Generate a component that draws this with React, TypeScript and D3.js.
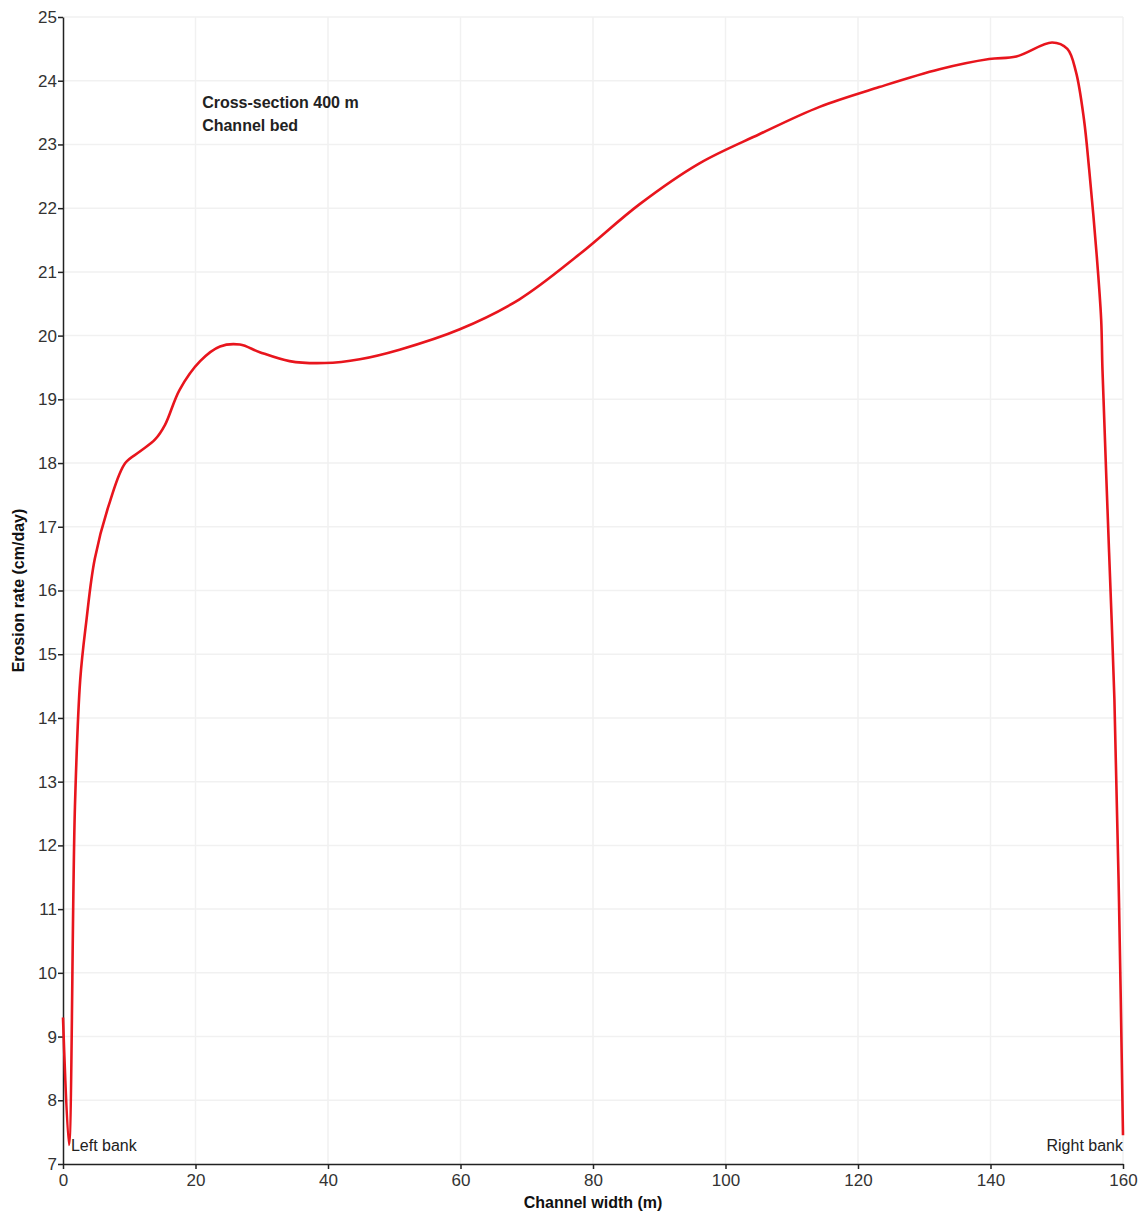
import React, { useEffect, useRef } from 'react';
import * as d3 from 'd3';

// channel width (m)
const widths = [
  0, 0.9, 1.8, 2.6, 3.5, 4.8, 7.1, 9.4, 11.6, 13.9, 15.4, 17.6, 20.7, 23.7, 26.7,
  29.7, 34.2, 39.5, 44.8, 50.8, 59.9, 68.9, 78, 87, 96, 105.1, 114.2, 123.2,
  132.3, 139.8, 143.9, 149.3, 151.6, 152.9, 154.1, 154.9, 156, 156.7, 156.9,
  157.9, 158.7, 159.4, 160,
];
// erosion rate (cm/day)
const erosion = [
  9.3, 7.3, 12.6, 14.6, 15.5, 16.5, 17.4, 18.0, 18.18, 18.37, 18.6, 19.15, 19.6,
  19.83, 19.86, 19.74, 19.6, 19.57, 19.63, 19.78, 20.1, 20.57, 21.28, 22.06,
  22.7, 23.16, 23.59, 23.9, 24.18, 24.34, 24.38, 24.6, 24.5, 24.14, 23.4, 22.6,
  21.3, 20.26, 19.47, 16.6, 14.3, 11.1, 7.45,
];
const xTicks = [0, 20, 40, 60, 80, 100, 120, 140, 160];
const yTicks = [7, 8, 9, 10, 11, 12, 13, 14, 15, 16, 17, 18, 19, 20, 21, 22, 23, 24, 25];
const notes = ['Cross-section 400 m', 'Channel bed'];

const W = 1143;
const H = 1214;

export default function App() {
  const ref = useRef<SVGSVGElement>(null);

  useEffect(() => {
    const svg = d3.select(ref.current);
    svg.selectAll('*').remove();

    const margin = { top: 17, right: 20, bottom: 50, left: 63 };
    const innerW = W - margin.left - margin.right;
    const innerH = H - margin.top - margin.bottom;
    const font = '"Liberation Sans", Arial, sans-serif';

    const x = d3.scaleLinear().domain([0, 160]).range([0, innerW]);
    const y = d3.scaleLinear().domain([7, 25]).range([innerH, 0]);

    const g = svg.append('g')
      .attr('transform', 'translate(' + margin.left + ',' + margin.top + ')');

    // grid
    g.append('g').selectAll('line').data(yTicks.slice(1)).enter().append('line')
      .attr('x1', 0).attr('x2', innerW)
      .attr('y1', d => y(d)).attr('y2', d => y(d))
      .attr('stroke', '#f1f1f1').attr('stroke-width', 1.5);
    g.append('g').selectAll('line').data(xTicks.slice(1)).enter().append('line')
      .attr('x1', d => x(d)).attr('x2', d => x(d))
      .attr('y1', 0).attr('y2', innerH)
      .attr('stroke', '#f1f1f1').attr('stroke-width', 1.5);

    // axes
    const xAxis = g.append('g')
      .attr('transform', 'translate(0,' + innerH + ')')
      .call(d3.axisBottom(x).tickValues(xTicks).tickSize(5).tickSizeOuter(0));
    const yAxis = g.append('g')
      .call(d3.axisLeft(y).tickValues(yTicks).tickSize(5).tickSizeOuter(0));
    [xAxis, yAxis].forEach(a => {
      a.selectAll('path, line').attr('stroke', '#222').attr('stroke-width', 1.5);
      a.selectAll('text')
        .attr('fill', '#333')
        .style('font-family', font)
        .style('font-size', '17px');
    });
    xAxis.selectAll('text').attr('dy', '0.85em');
    yAxis.selectAll('text').attr('x', -6);

    // curve
    const pts = widths.map((w, i) => [w, erosion[i]] as [number, number]);
    const path = d3.line<[number, number]>()
      .x(d => x(d[0]))
      .y(d => y(d[1]))
      .curve(d3.curveCatmullRom.alpha(0.5));
    g.append('path')
      .datum(pts)
      .attr('d', path)
      .attr('fill', 'none')
      .attr('stroke', '#e8151d')
      .attr('stroke-width', 2.6)
      .attr('stroke-linejoin', 'round');

    // bank labels
    g.append('text').attr('x', x(1.2)).attr('y', y(7.2))
      .style('font-family', font).style('font-size', '16px').attr('fill', '#222')
      .text('Left bank');
    g.append('text').attr('x', x(160)).attr('y', y(7.2))
      .attr('text-anchor', 'end')
      .style('font-family', font).style('font-size', '16px').attr('fill', '#222')
      .text('Right bank');

    // annotation
    g.append('g').selectAll('text').data(notes).enter().append('text')
      .attr('x', x(21))
      .attr('y', (d, i) => y(24) + 27 + i * 23)
      .style('font-family', font).style('font-size', '16px')
      .style('font-weight', 'bold').attr('fill', '#222')
      .text(d => d);

    // axis titles
    svg.append('text')
      .attr('x', margin.left + innerW / 2)
      .attr('y', H - 6)
      .attr('text-anchor', 'middle')
      .style('font-family', font).style('font-size', '16px')
      .style('font-weight', 'bold').attr('fill', '#111')
      .text('Channel width (m)');
    svg.append('text')
      .attr('transform', 'translate(24,' + (margin.top + innerH / 2) + ') rotate(-90)')
      .attr('text-anchor', 'middle')
      .style('font-family', font).style('font-size', '16px')
      .style('font-weight', 'bold').attr('fill', '#111')
      .text('Erosion rate (cm/day)');
  }, []);

  return (
    <div style={{ position: 'absolute', left: 0, top: 0 }}>
      <svg ref={ref} width={W} height={H} style={{ display: 'block', background: '#fff' }} />
    </div>
  );
}
